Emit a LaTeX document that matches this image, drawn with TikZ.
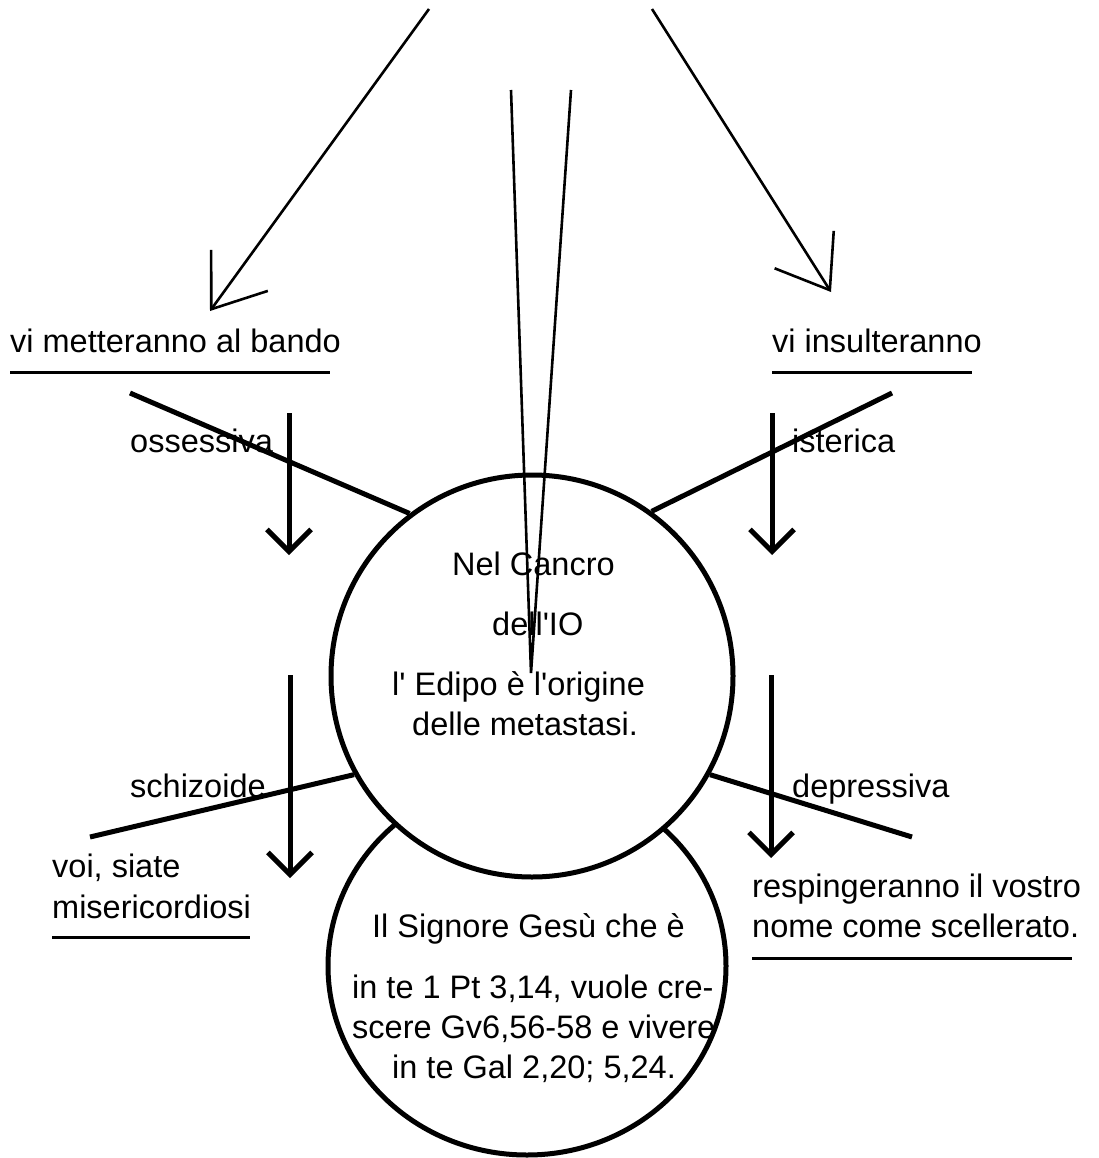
\documentclass[tikz,border=0pt]{standalone}
\usepackage{fontspec}
\setmainfont{Liberation Sans}
\usetikzlibrary{arrows.meta,shapes.geometric}
\begin{document}
\begin{tikzpicture}[x=1pt,y=-1pt,
  heavy/.style={line width=5pt},
  downarrow/.style={line width=5pt,-{Straight Barb[length=22pt,width=44pt]}},
  toparrow/.style={line width=2.6pt,-{Straight Barb[length=48pt,width=70pt]}},
  thinline/.style={line width=2.6pt},
  uline/.style={line width=3pt},
  lbl/.style={inner sep=0pt,anchor=base west,font=\fontsize{32.5}{39}\selectfont},
  bubble/.style={draw,line width=5pt,fill=white,inner sep=0pt}]
\useasboundingbox (0,0) rectangle (1099,1158);
% circles
\node[bubble,ellipse,minimum width=398pt,minimum height=378pt] (bc) at (527,966) {};
\node[bubble,circle,minimum size=402pt] (tc) at (532,676) {};
% coordinates
\coordinate (tlA) at (429,9);   \coordinate (tlB) at (210,311);
\coordinate (trA) at (652,9);   \coordinate (trB) at (831,292);
\coordinate (vL) at (511,90);   \coordinate (vR) at (571,90);  \coordinate (vApex) at (531,673);
\coordinate (oss) at (130,393); \coordinate (ist) at (892,393);
\coordinate (sch) at (90,837);  \coordinate (dep) at (912,837);
\coordinate (a1s) at (289,413); \coordinate (a1e) at (289,555);
\coordinate (a2s) at (772,413); \coordinate (a2e) at (772,555);
\coordinate (a3s) at (290,675); \coordinate (a3e) at (290,878);
\coordinate (a4s) at (771,675); \coordinate (a4e) at (771,858);
\coordinate (u1a) at (10,372);  \coordinate (u1b) at (330,372);
\coordinate (u2a) at (772,372); \coordinate (u2b) at (972,372);
\coordinate (u3a) at (52,937);  \coordinate (u3b) at (250,937);
\coordinate (u4a) at (752,958); \coordinate (u4b) at (1072,958);
% texts
\node[lbl] (t1) at (10,352) {vi metteranno al bando};
\node[lbl] (t2) at (772,352) {vi insulteranno};
\node[lbl] (t3) at (130,452) {ossessiva};
\node[lbl] (t4) at (792,452) {isterica};
\node[lbl] (t5) at (130,797) {schizoide};
\node[lbl] (t6) at (792,797) {depressiva};
\node[lbl] (t7) at (52,877) {voi, siate};
\node[lbl] (t8) at (52,918) {misericordiosi};
\node[lbl] (t9) at (752,897) {respingeranno il vostro};
\node[lbl] (t10) at (752,937) {nome come scellerato.};
\node[lbl] (c1) at (452,575) {Nel Cancro};
\node[lbl] (c2) at (492,635) {dell\textquotesingle IO};
\node[lbl] (c3) at (392,695) {l\textquotesingle{} Edipo è l\textquotesingle origine};
\node[lbl] (c4) at (412,735) {delle metastasi.};
\node[lbl] (b1) at (372,937) {Il Signore Gesù che è};
\node[lbl] (b2) at (352,998) {in te 1 Pt 3,14, vuole cre-};
\node[lbl] (b3) at (352,1038) {scere Gv6,56-58 e vivere};
\node[lbl] (b4) at (392,1078) {in te Gal 2,20; 5,24.};
% underlines
\draw[uline] (u1a) -- (u1b);
\draw[uline] (u2a) -- (u2b);
\draw[uline] (u3a) -- (u3b);
\draw[uline] (u4a) -- (u4b);
% heavy spokes
\draw[heavy] (oss) -- (tc.127);
\draw[heavy] (ist) -- (tc.54);
\draw[heavy] (sch) -- (tc.209);
\draw[heavy] (dep) -- (tc.-29);
% down arrows
\draw[downarrow] (a1s) -- (a1e);
\draw[downarrow] (a2s) -- (a2e);
\draw[downarrow] (a3s) -- (a3e);
\draw[downarrow] (a4s) -- (a4e);
% top arrows
\draw[toparrow] (tlA) -- (tlB);
\draw[toparrow] (trA) -- (trB);
% V lines
\draw[thinline] (vL) -- (vApex) -- (vR);
\end{tikzpicture}
\end{document}
